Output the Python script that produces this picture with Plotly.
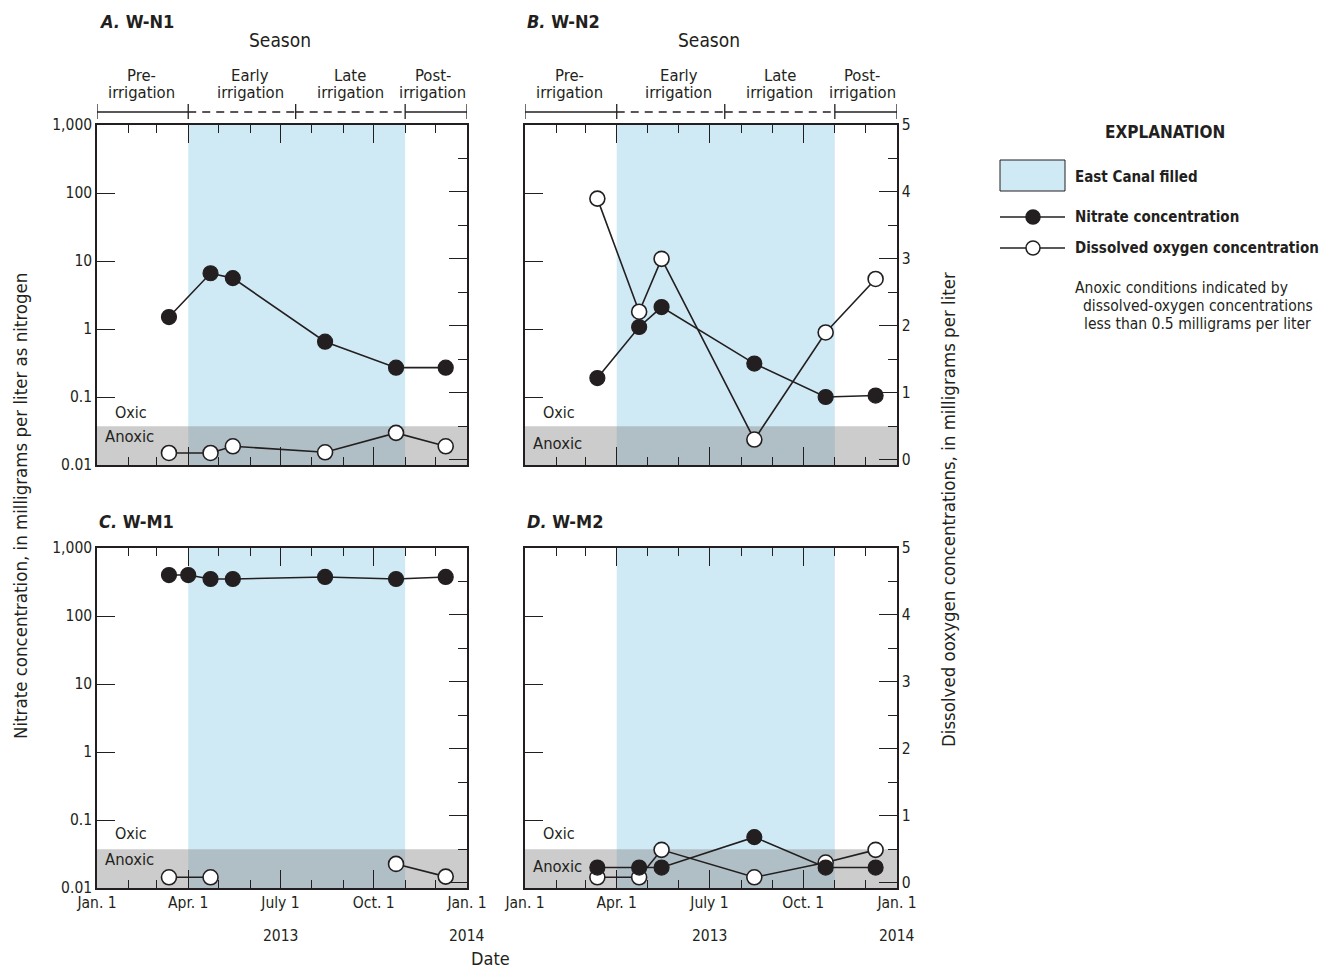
import plotly.graph_objects as go

# ---------------- data ----------------
sample_dates = ["2013-03-13", "2013-04-23", "2013-05-15", "2013-08-14", "2013-10-23", "2013-12-11"]
sample_dates_c = ["2013-03-13", "2013-04-01", "2013-04-23", "2013-05-15", "2013-08-14", "2013-10-23", "2013-12-11"]

nitrate_a = [1.5, 6.6, 5.6, 0.65, 0.27, 0.27]
do_a = [0.1, 0.1, 0.2, 0.11, 0.4, 0.2]

nitrate_b = [0.19, 1.07, 2.1, 0.31, 0.10, 0.105]
do_b = [3.9, 2.21, 3.0, 0.3, 1.9, 2.7]

nitrate_c = [400, 400, 350, 350, 375, 350, 375]
do_c = [0.08, 0.08, None, None, 0.28, 0.09]

nitrate_d = [0.02, 0.02, 0.02, 0.056, 0.02, 0.02]
do_d = [0.08, 0.08, 0.49, 0.08, 0.3, 0.49]

panel_letters = ["A.", "B.", "C.", "D."]
panel_wells = ["W-N1", "W-N2", "W-M1", "W-M2"]

canal_start, canal_end = "2013-04-01", "2013-11-01"
season_line1 = ["Pre-", "Early", "Late", "Post-"]
season_line2 = ["irrigation", "irrigation", "irrigation", "irrigation"]
season_bounds = ["2013-01-01", "2013-04-01", "2013-07-16", "2013-11-01", "2014-01-01"]
season_label_dates = ["2013-02-14", "2013-06-01", "2013-09-08", "2013-11-28"]
season_dashed = [False, True, True, False]

nitrate_ticks = [0.01, 0.1, 1, 10, 100, 1000]
nitrate_ticktext = ["0.01", "0.1", "1", "10", "100", "1,000"]
anoxic_threshold = 0.5

# ---------------- style ----------------
OFF = 8                      # page body margin offsets the figure by 8 px
W, H = 1338 - OFF, 968 - OFF
FONT = "Liberation Sans Narrow, DejaVu Sans Condensed, Arial Narrow, sans-serif"
INK = "#231f20"
BLUE = "#d0eaf5"
GRAY = "rgba(128,128,128,0.40)"
DO_RANGE = [-0.08, 5]


def px(xp):
    return (xp - OFF) / W


def py(yp):
    return 1 - (yp - OFF) / H


def axname(letter, k):
    return letter if k == 1 else f"{letter}{k}"


panels = [
    dict(x0=97, x1=467, y0=125, y1=465),
    dict(x0=525, x1=897, y0=125, y1=465),
    dict(x0=97, x1=467, y0=548, y1=888),
    dict(x0=525, x1=897, y0=548, y1=888),
]
nitrates = [nitrate_a, nitrate_b, nitrate_c, nitrate_d]
dos = [do_a, do_b, do_c, do_d]
nit_dates = [sample_dates, sample_dates, sample_dates_c, sample_dates]
do_dates = [sample_dates, sample_dates, sample_dates, sample_dates]
oxic_y = [412, 412, 833, 833]
anoxic_y = [436, 443, 859, 866]

fig = go.Figure()
layout = dict(
    template="none",
    width=W, height=H,
    margin=dict(l=0, r=0, t=0, b=0, pad=0, autoexpand=False),
    paper_bgcolor="white", plot_bgcolor="white",
    showlegend=False,
    font=dict(family=FONT, color=INK, size=15),
)
shapes = []
annotations = []
TICKFONT = dict(size=15.5, family=FONT, color=INK)

for i, p in enumerate(panels):
    n = i + 1
    xa = axname("x", n)
    ya_do = axname("y", 2 * i + 1)
    ya_n = axname("y", 2 * i + 2)
    left_col = i in (0, 2)
    bottom = i in (2, 3)
    top = i in (0, 1)

    layout[axname("xaxis", n)] = dict(
        domain=[px(p["x0"]), px(p["x1"])],
        anchor=ya_do, automargin=False,
        type="date",
        range=["2013-01-01", "2014-01-01"],
        tick0="2013-01-01", dtick="M3",
        tickformat="%b %-d",
        labelalias={"Jan 1": "Jan. 1", "Apr 1": "Apr. 1", "Jul 1": "July 1", "Oct 1": "Oct. 1"},
        ticks="inside", ticklen=18, tickwidth=1.4, tickcolor=INK,
        minor=dict(tick0="2013-01-01", dtick="M1", ticks="inside", ticklen=8,
                   tickwidth=1.4, tickcolor=INK, showgrid=False),
        showticklabels=bottom,
        tickfont=TICKFONT,
        showline=True, linecolor=INK, linewidth=1.5, mirror="ticks",
        showgrid=False, zeroline=False,
    )
    layout[axname("yaxis", 2 * i + 1)] = dict(
        domain=[py(p["y1"]), py(p["y0"])],
        anchor=xa, side="right", automargin=False,
        range=DO_RANGE, tick0=0, dtick=1,
        ticks="inside", ticklen=18, tickwidth=1.4, tickcolor=INK,
        minor=dict(tick0=0, dtick=0.5, ticks="inside", ticklen=9,
                   tickwidth=1.4, tickcolor=INK, showgrid=False),
        showticklabels=not left_col,
        tickfont=TICKFONT,
        showline=True, linecolor=INK, linewidth=1.5,
        showgrid=False, zeroline=False,
    )
    layout[axname("yaxis", 2 * i + 2)] = dict(
        overlaying=ya_do, anchor=xa, side="left", automargin=False,
        type="log", range=[-2, 3],
        tickmode="array", tickvals=nitrate_ticks, ticktext=nitrate_ticktext,
        ticks="inside", ticklen=18, tickwidth=1.4, tickcolor=INK,
        showticklabels=left_col,
        tickfont=TICKFONT,
        showline=True, linecolor=INK, linewidth=1.5,
        showgrid=False, zeroline=False,
    )

    # East Canal filled shading
    shapes.append(dict(type="rect", xref=xa, yref=f"{ya_do} domain",
                       x0=canal_start, x1=canal_end, y0=0, y1=1,
                       fillcolor=BLUE, line=dict(width=0), layer="below"))
    # Anoxic band (DO < 0.5)
    shapes.append(dict(type="rect", xref=f"{xa} domain", yref=ya_do,
                       x0=0, x1=1, y0=DO_RANGE[0], y1=anoxic_threshold,
                       fillcolor=GRAY, line=dict(width=0), layer="below"))

    # traces: DO on base axis, nitrate on overlay (drawn above)
    fig.add_trace(go.Scatter(
        x=do_dates[i], y=dos[i], xaxis=xa, yaxis=ya_do,
        mode="lines+markers", connectgaps=False,
        line=dict(color=INK, width=1.6),
        marker=dict(size=15, color="white", line=dict(color=INK, width=1.6)),
        cliponaxis=False,
    ))
    fig.add_trace(go.Scatter(
        x=nit_dates[i], y=nitrates[i], xaxis=xa, yaxis=ya_n,
        mode="lines+markers",
        line=dict(color=INK, width=1.6),
        marker=dict(size=15, color=INK, line=dict(color=INK, width=1.2)),
        cliponaxis=False,
    ))

    # panel titles
    annotations.append(dict(xref="paper", yref="paper", x=px(p["x0"]),
                            y=py(p["y0"] - 103 if top else p["y0"] - 27),
                            text=f"<b><i>{panel_letters[i]}</i> {panel_wells[i]}</b>",
                            showarrow=False, xanchor="left", yanchor="middle",
                            font=dict(size=18, family=FONT, color=INK)))
    # Oxic / Anoxic labels
    annotations.append(dict(xref=f"{xa} domain", yref="paper", x=0, xshift=16, y=py(oxic_y[i]),
                            text="Oxic", showarrow=False, xanchor="left", yanchor="middle",
                            font=dict(size=16, family=FONT, color=INK)))
    annotations.append(dict(xref=f"{xa} domain", yref="paper", x=0, xshift=6, y=py(anoxic_y[i]),
                            text="Anoxic", showarrow=False, xanchor="left", yanchor="middle",
                            font=dict(size=16.5, family=FONT, color=INK)))

    if top:
        annotations.append(dict(xref=xa, yref="paper", x="2013-07-01", y=py(40),
                                text="Season", showarrow=False, xanchor="center", yanchor="middle",
                                font=dict(size=19, family=FONT, color=INK)))
        line_y = 112
        for k in range(4):
            shapes.append(dict(type="line", xref=xa, yref="paper",
                               x0=season_bounds[k], x1=season_bounds[k + 1],
                               y0=py(line_y), y1=py(line_y),
                               line=dict(color=INK, width=1.3,
                                         dash="8px,6px" if season_dashed[k] else "solid")))
            annotations.append(dict(xref=xa, yref="paper", x=season_label_dates[k], y=py(75),
                                    text=season_line1[k], showarrow=False,
                                    xanchor="center", yanchor="middle",
                                    font=dict(size=16.5, family=FONT, color=INK)))
            annotations.append(dict(xref=xa, yref="paper", x=season_label_dates[k], y=py(92),
                                    text=season_line2[k], showarrow=False,
                                    xanchor="center", yanchor="middle",
                                    font=dict(size=16.5, family=FONT, color=INK)))
        for b in season_bounds:
            shapes.append(dict(type="line", xref=xa, yref="paper", x0=b, x1=b,
                               y0=py(line_y - 8), y1=py(line_y + 7),
                               line=dict(color=INK, width=1.3)))
    if bottom:
        annotations.append(dict(xref=xa, yref="paper", x="2013-07-01", y=py(936),
                                text="2013", showarrow=False, xanchor="center", yanchor="middle",
                                font=dict(size=15.5, family=FONT, color=INK)))
        annotations.append(dict(xref=xa, yref="paper", x="2014-01-01", y=py(936),
                                text="2014", showarrow=False, xanchor="center", yanchor="middle",
                                font=dict(size=15.5, family=FONT, color=INK)))

# axis titles
annotations.append(dict(xref="paper", yref="paper", x=px(20), y=py(506),
                        text="Nitrate concentration, in milligrams per liter as nitrogen",
                        textangle=-90, showarrow=False, xanchor="center", yanchor="middle",
                        font=dict(size=18.5, family=FONT, color=INK)))
annotations.append(dict(xref="paper", yref="paper", x=px(948), y=py(510),
                        text="Dissolved ooxygen concentrations, in milligrams per liter",
                        textangle=-90, showarrow=False, xanchor="center", yanchor="middle",
                        font=dict(size=18.5, family=FONT, color=INK)))
annotations.append(dict(xref="paper", yref="paper", x=px(490), y=py(958),
                        text="Date", showarrow=False, xanchor="center", yanchor="middle",
                        font=dict(size=18, family=FONT, color=INK)))

# explanation (legend)
annotations.append(dict(xref="paper", yref="paper", x=px(1165), y=py(132),
                        text="<b>EXPLANATION</b>", showarrow=False, xanchor="center", yanchor="middle",
                        font=dict(size=17, family=FONT, color=INK)))
shapes.append(dict(type="rect", xref="paper", yref="paper",
                   x0=px(1000), x1=px(1065), y0=py(191), y1=py(160),
                   fillcolor=BLUE, line=dict(color=INK, width=1)))
leg_items = [(177, "<b>East Canal filled</b>")]
for ly, filled, label in [(217, True, "<b>Nitrate concentration</b>"),
                          (248, False, "<b>Dissolved oxygen concentration</b>")]:
    shapes.append(dict(type="line", xref="paper", yref="paper",
                       x0=px(1000), x1=px(1065), y0=py(ly), y1=py(ly),
                       line=dict(color=INK, width=1.5)))
    shapes.append(dict(type="circle", xref="paper", yref="paper",
                       x0=px(1026), x1=px(1040), y0=py(ly + 7), y1=py(ly - 7),
                       fillcolor=INK if filled else "white", line=dict(color=INK, width=1.5)))
    leg_items.append((ly, label))
for ly, label in leg_items:
    annotations.append(dict(xref="paper", yref="paper", x=px(1073), y=py(ly),
                            text=label, showarrow=False, xanchor="left", yanchor="middle",
                            font=dict(size=15, family=FONT, color=INK)))
for ly, lx, label in [(288, 1073, "Anoxic conditions indicated by"),
                      (306, 1081, "dissolved-oxygen concentrations"),
                      (324, 1082, "less than 0.5 milligrams per liter")]:
    annotations.append(dict(xref="paper", yref="paper", x=px(lx), y=py(ly),
                            text=label, showarrow=False, xanchor="left", yanchor="middle",
                            font=dict(size=15.5, family=FONT, color=INK)))

layout["shapes"] = shapes
layout["annotations"] = annotations
fig.update_layout(**layout)
fig.write_html("out.html")
